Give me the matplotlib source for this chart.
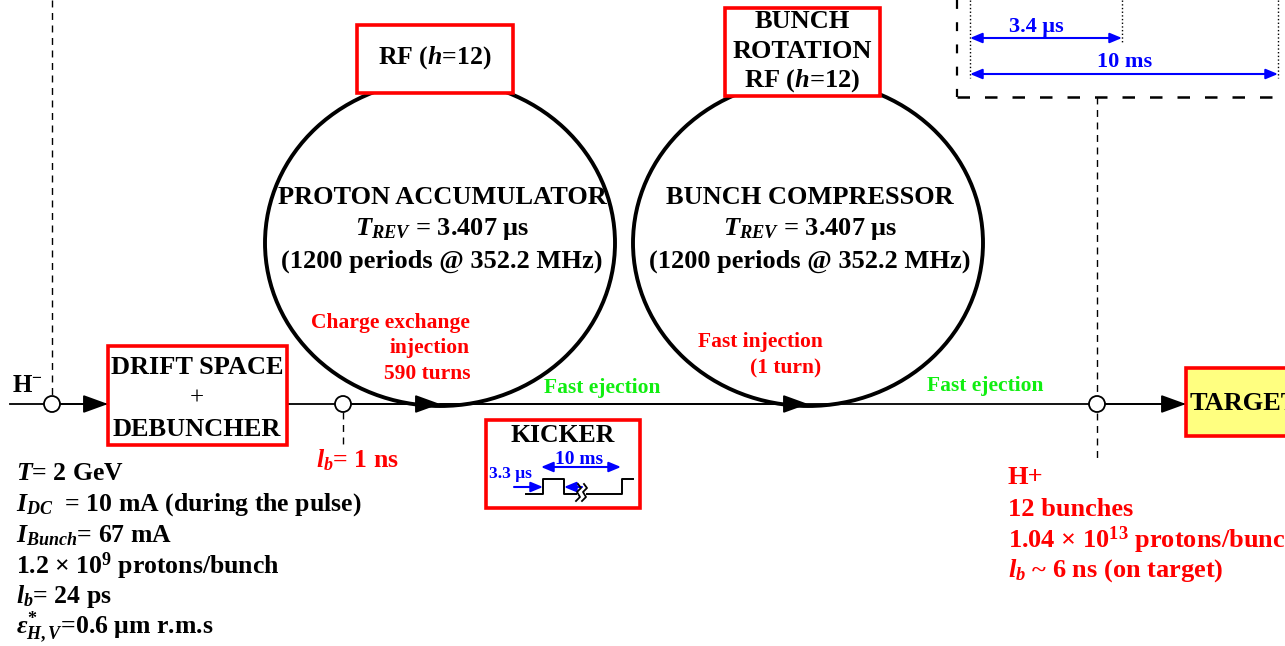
import numpy as np
import matplotlib
matplotlib.use("Agg")
import matplotlib.pyplot as plt
from matplotlib.patches import Ellipse, Rectangle, Circle

plt.rcParams['font.family'] = ['Liberation Serif', 'DejaVu Serif']
plt.rcParams['font.weight'] = 'bold'
plt.rcParams['mathtext.fontset'] = 'custom'
plt.rcParams['mathtext.rm'] = 'Liberation Serif:bold'
plt.rcParams['mathtext.it'] = 'Liberation Serif:italic:bold'
plt.rcParams['mathtext.bf'] = 'Liberation Serif:bold'

RED = '#ff0000'
BLUE = '#0000ff'
GREEN = '#11ee11'

# text content
ring_names = ["PROTON ACCUMULATOR", "BUNCH COMPRESSOR"]
ring_trev = [r"$T_{REV}$ = 3.407 μs", r"$T_{REV}$ = 3.407 μs"]
ring_period = ["(1200 periods @ 352.2 MHz)", "(1200 periods @ 352.2 MHz)"]
input_params = [r"$T$= 2 GeV",
                r"$I_{DC}$  = 10 mA (during the pulse)",
                r"$I_{Bunch}$= 67 mA",
                r"1.2 × 10$^{\mathrm{9}}$ protons/bunch",
                r"$l_b$= 24 ps",
                r"$ε^{*}_{H,V}$=0.6 μm r.m.s"]
output_params = ["H+",
                 "12 bunches",
                 r"1.04 × 10$^{\mathrm{13}}$ protons/bunch",
                 r"$l_b$ ~ 6 ns (on target)"]
injection_lines = ["Charge exchange", "injection", "590 turns"]
fast_inj_lines = ["Fast injection", "(1 turn)"]

# geometry (pixel coords)
beam_y = 404
ring_x = [440, 808]
ring_y = 243
ring_w = 350
ring_h = 326
node_x = [52, 343, 1097]

fig = plt.figure(figsize=(12.85, 6.46), dpi=100)
ax = fig.add_axes([0, 0, 1, 1])
ax.set_xlim(0, 1285)
ax.set_ylim(646, 0)
ax.axis('off')

# rings
for cx in ring_x:
    ax.add_patch(Ellipse((cx, ring_y), ring_w, ring_h, fill=False, ec='k', lw=2.8, zorder=2))

# beam line
ax.plot([10, 1186], [beam_y, beam_y], color='k', lw=1.3, zorder=3)

def arrow(x0, x1, y=beam_y):
    ax.annotate("", xy=(x1, y), xytext=(x0, y),
                arrowprops=dict(arrowstyle='-|>,head_length=1.1,head_width=0.4',
                                mutation_scale=14, lw=1.3, color='k',
                                shrinkA=0, shrinkB=0), zorder=4)

arrow(60, 108)
arrow(352, 440)
arrow(440, 808)
arrow(1105, 1186)

# nodes and dashed lines
ax.plot([52, 52], [0, 395], color='k', lw=1, ls=(0, (5, 4)))
ax.plot([343, 343], [412, 448], color='k', lw=1, ls=(0, (5, 4)))
ax.plot([1097, 1097], [97, 395], color='k', lw=1, ls=(0, (5, 4)))
ax.plot([1097, 1097], [413, 462], color='k', lw=1, ls=(0, (5, 4)))
for nx in node_x:
    ax.add_patch(Circle((nx, beam_y), 8, fc='white', ec='k', lw=1.3, zorder=5))

# boxes
def box(x0, y0, x1, y1, fc='white', ec=RED):
    ax.add_patch(Rectangle((x0, y0), x1 - x0, y1 - y0, fc=fc, ec=ec, lw=2.6, zorder=6))

box(108, 346, 287, 445)
ax.text(197, 368, "DRIFT SPACE", ha='center', va='center', fontsize=19, zorder=7)
ax.text(197, 399, "+", ha='center', va='center', fontsize=18, fontweight='normal', zorder=7)
ax.text(197, 429, "DEBUNCHER", ha='center', va='center', fontsize=19, zorder=7)

box(357, 25, 513, 93)
ax.text(435, 58, r"RF ($h$=12)", ha='center', va='center', fontsize=18.5, zorder=7)

box(725, 8, 880, 96)
for txt, yy in zip(["BUNCH", "ROTATION", r"RF ($h$=12)"], [22, 52, 81]):
    ax.text(802, yy, txt, ha='center', va='center', fontsize=19, zorder=7)

box(1186, 368, 1300, 436, fc='#ffff80')
ax.text(1190, 404, "TARGET", ha='left', va='center', fontsize=19, zorder=7)

# kicker
box(486, 420, 640, 508)
ax.text(563, 435, "KICKER", ha='center', va='center', fontsize=18.5, zorder=7)
ax.plot([526, 543, 543, 564, 564, 622, 622, 633],
        [494, 494, 479, 479, 494, 494, 479, 479], color='k', lw=1.4, zorder=7)
# break mark on the pulse baseline
ax.add_patch(Rectangle((577, 490), 9, 8, fc='white', ec='none', zorder=8))
for off in (0, 6):
    ax.plot(np.array([576, 580, 577, 581, 578]) + off, [501, 497, 492, 488, 484],
            color='k', lw=1.3, zorder=9)
ax.annotate("", xy=(621, 467), xytext=(541, 467),
            arrowprops=dict(arrowstyle='<|-|>,head_length=0.6,head_width=0.25',
                            mutation_scale=12, lw=1.5, color=BLUE, shrinkA=0, shrinkB=0), zorder=8)
ax.text(579, 459, "10 ms", ha='center', va='center', fontsize=14, color=BLUE, zorder=8)
ax.annotate("", xy=(543, 487), xytext=(514, 487),
            arrowprops=dict(arrowstyle='-|>,head_length=0.6,head_width=0.25',
                            mutation_scale=12, lw=1.5, color=BLUE, shrinkA=0, shrinkB=0), zorder=8)
ax.annotate("", xy=(564, 487), xytext=(582, 487),
            arrowprops=dict(arrowstyle='-|>,head_length=0.6,head_width=0.25',
                            mutation_scale=12, lw=1.5, color=BLUE, shrinkA=0, shrinkB=0), zorder=8)
ax.text(489, 474, "3.3 μs", ha='left', va='center', fontsize=12.5, color=BLUE, zorder=8)

# top-right timing box
ax.plot([957, 957], [0, 97], color='k', lw=1.6, ls=(0, (4, 6)))
ax.plot([957, 1285], [97, 97], color='k', lw=1.8, ls=(0, (5, 6)))
for dx, y1 in [(970, 78), (1122, 42), (1278, 78)]:
    ax.plot([dx, dx], [0, y1], color='k', lw=1, ls=':')
ax.annotate("", xy=(1122, 38), xytext=(970, 38),
            arrowprops=dict(arrowstyle='<|-|>,head_length=0.6,head_width=0.25',
                            mutation_scale=12, lw=1.5, color=BLUE, shrinkA=0, shrinkB=0))
ax.text(1036, 27, "3.4 μs", ha='center', va='center', fontsize=16, color=BLUE)
ax.annotate("", xy=(1278, 74), xytext=(970, 74),
            arrowprops=dict(arrowstyle='<|-|>,head_length=0.6,head_width=0.25',
                            mutation_scale=12, lw=1.5, color=BLUE, shrinkA=0, shrinkB=0))
ax.text(1125, 62, "10 ms", ha='center', va='center', fontsize=16, color=BLUE)

# ring texts
for cx, name, trev, per in zip(ring_x, ring_names, ring_trev, ring_period):
    ax.text(cx + 2, 197, name, ha='center', va='center', fontsize=19)
    ax.text(cx + 2, 229, trev, ha='center', va='center', fontsize=19)
    ax.text(cx + 2, 261, per, ha='center', va='center', fontsize=19)

# injection / ejection labels
for txt, yy in zip(injection_lines, [323, 348, 374]):
    ax.text(470, yy, txt, ha='right', va='center', fontsize=15.5, color=RED)
ax.text(823, 342, fast_inj_lines[0], ha='right', va='center', fontsize=15.5, color=RED)
ax.text(821, 368, fast_inj_lines[1], ha='right', va='center', fontsize=15.5, color=RED)
ax.text(602, 388, "Fast ejection", ha='center', va='center', fontsize=15.5, color=GREEN)
ax.text(985, 386, "Fast ejection", ha='center', va='center', fontsize=15.5, color=GREEN)

ax.text(12, 385, r"H$^{-}$", ha='left', va='center', fontsize=18)
ax.text(316, 460, r"$l_b$= 1 ns", ha='left', va='center', fontsize=18.5, color=RED)

for i, txt in enumerate(input_params):
    ax.text(16, 474 + i * 30.7, txt, ha='left', va='center', fontsize=18.5)
for i, txt in enumerate(output_params):
    ax.text(1008, 478 + i * 31, txt, ha='left', va='center', fontsize=19, color=RED)

fig.savefig("out.png", dpi=100)
